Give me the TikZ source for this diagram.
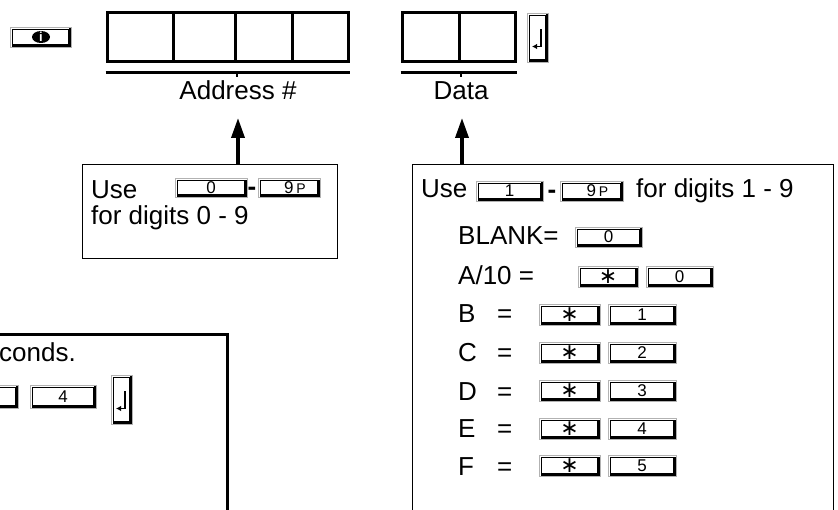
\documentclass[tikz,border=0pt]{standalone}
\usepackage{fontspec}
\setmainfont{Liberation Sans}
\newfontfamily\djv{DejaVu Sans}
\usetikzlibrary{arrows.meta,calc}
\newcommand\kfdraw{%
  \draw[black,line width=0.5pt] ([shift={(2pt,-2pt)}]path picture bounding box.north west) rectangle ([shift={(-3pt,3pt)}]path picture bounding box.south east);
  \draw[black,line width=2.4pt] ([shift={(-1.2pt,-1.5pt)}]path picture bounding box.north east) -- ([shift={(-1.2pt,1.2pt)}]path picture bounding box.south east) -- ([shift={(1.5pt,1.2pt)}]path picture bounding box.south west);}
\newcommand\starkey{{\djv\fontsize{22}{22}\selectfont ∗}}
\newcommand\ninep{\hspace{12pt}9\,{\fontsize{14}{14}\selectfont P}}
\begin{document}
\begin{tikzpicture}[x=1pt,y=-1pt,
  txt/.style={font=\fontsize{26}{30}\selectfont, inner sep=0pt, anchor=base west},
  lbl/.style={font=\fontsize{26}{30}\selectfont, inner sep=0pt, anchor=base},
  dashsign/.style={font=\fontsize{26}{30}\selectfont\bfseries, inner sep=0pt},
  cell/.style={draw, line width=3pt, minimum height=49pt, inner sep=0pt},
  keycap/.style={draw=gray!60, line width=0.6pt, fill=white, inner sep=0pt, minimum width=#1, minimum height=20pt, font=\fontsize{17}{17}\selectfont, path picture={\kfdraw}},
  enterkey/.style={draw=gray!60, line width=0.6pt, fill=white, inner sep=0pt, minimum width=21pt, minimum height=49pt,
     path picture={\kfdraw
       \draw[black,line width=1.4pt,-{Latex[length=5pt,width=5.5pt]}] ([shift={(3.5pt,8pt)}]path picture bounding box.center) -- ([shift={(3.5pt,-9pt)}]path picture bounding box.center) -- ([shift={(-5.5pt,-9pt)}]path picture bounding box.center);}},
  thinbox/.style={draw, line width=1pt, inner sep=0pt},
  bigarrow/.style={line width=3.5pt, -{Triangle[length=20pt,width=13pt]}},
  uline/.style={line width=3pt}
]
\useasboundingbox (0,0) rectangle (838,510);
\clip (0,0) rectangle (838,510);

% info key
\node[keycap=61pt] (info) at (41,37) {};
\fill (info.center) ellipse (9pt and 6pt);
\node[font=\bfseries\fontsize{13}{13}\selectfont, text=white, inner sep=0pt] (infoi) at (info.center) {i};

% address cells
\node[cell, minimum width=66pt] (a1) at (140,37.5) {};
\node[cell, minimum width=62pt] (a2) at (204,37.5) {};
\node[cell, minimum width=57pt] (a3) at (263.5,37.5) {};
\node[cell, minimum width=56pt] (a4) at (320,37.5) {};
\draw[uline] ([yshift=-9pt]a1.south west) -- ([yshift=-9pt]a4.south east);
\draw[line width=2pt] ([yshift=-9pt]a2.south east) -- ([yshift=-14pt]a2.south east);
\node[lbl] (addr) at (238,100) {Address \#};

% data cells
\node[cell, minimum width=57pt] (d1) at (430.5,37.5) {};
\node[cell, minimum width=56pt] (d2) at (487,37.5) {};
\draw[uline] ([yshift=-9pt]d1.south west) -- ([yshift=-9pt]d2.south east);
\draw[line width=2pt] ([yshift=-9pt]d1.south east) -- ([yshift=-14pt]d1.south east);
\node[lbl] (data) at (461,100) {Data};
\node[enterkey] (ent1) at (537.5,37.5) {};

% left Use box
\node[thinbox, minimum width=255pt, minimum height=94pt] (usel) at (209.5,212) {};
\node[txt] (use1) at (91,199) {Use};
\node[keycap=72pt, minimum height=19pt] (k1a) at (211,188) {0};
\node[dashsign] (dash1) at (252,191) {-};
\node[keycap=62pt, minimum height=19pt] (k1b) at (289,188) {\ninep};
\node[txt] (fd1) at (91,225) {for digits 0 - 9};
\coordinate (tipA) at (238,118);
\draw[bigarrow] (tipA |- usel.north) -- (tipA);

% right Use box
\node[thinbox, minimum width=421pt, minimum height=395pt] (user) at (622.5,362.5) {};
\coordinate (tipB) at (462,118);
\draw[bigarrow] (tipB |- user.north) -- (tipB);
\node[txt] (use2) at (421,198) {Use};
\node[keycap=67pt] (k2a) at (509.5,191) {1};
\node[dashsign] (dash2) at (552,194) {-};
\node[keycap=63pt] (k2b) at (591.5,191) {\ninep};
\node[txt] (fd2) at (636,198) {for digits 1 - 9};

\node[txt] (blank) at (458,245) {BLANK=};
\node[keycap=67pt] (kbl) at (608.5,237) {0};

\node[txt] (a10) at (458,285) {A/10 =};
\node[keycap=60pt, minimum height=21pt] (ka1) at (608,277) {\starkey};
\node[keycap=67pt, minimum height=21pt] (ka2) at (679.5,277) {0};

\foreach \L/\d/\yb/\yc in {B/1/323/315, C/2/362/353, D/3/400/391, E/4/438/429, F/5/475/466}{
  \node[txt] (r\L) at (458,\yb) {\L};
  \node[txt] (eq\L) at (497,\yb) {=};
  \node[keycap=61pt, minimum height=21pt] (ks\L) at (569.5,\yc) {\starkey};
  \node[keycap=68pt, minimum height=21pt] (kd\L) at (642,\yc) {\d};
}

% bottom-left box
\node[draw, line width=3pt, minimum width=427pt, minimum height=265pt, inner sep=0pt] (lbox) at (13.5,467.5) {};
\node[txt] (conds) at (-1,362) {conds.};
\node[keycap=66pt, minimum height=23pt] (kp) at (-15,396.5) {};
\node[keycap=66pt, minimum height=23pt] (k4) at (63,396.5) {4};
\node[enterkey] (ent2) at (121.5,399.5) {};
\end{tikzpicture}
\end{document}
